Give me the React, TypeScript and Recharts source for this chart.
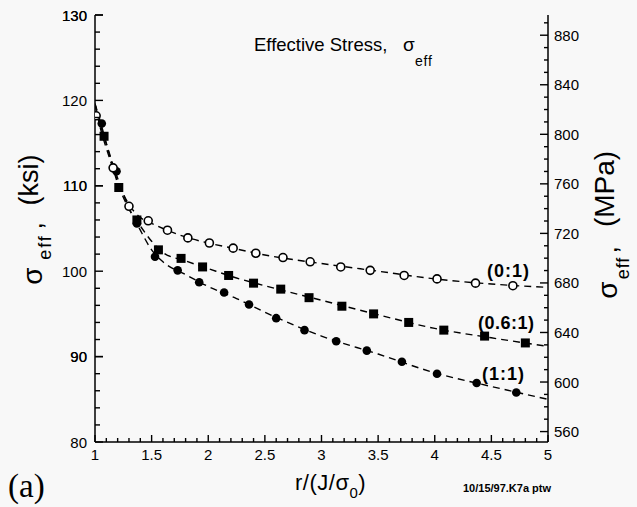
import React from "react";
import { ComposedChart, Line, Scatter, XAxis, YAxis } from "recharts";

// measured points, r/(J/sigma0) vs sigma_eff (ksi)
const openX = [1.01, 1.16, 1.3, 1.47, 1.64, 1.82, 2.01, 2.22, 2.42, 2.66, 2.9, 3.17, 3.43, 3.73, 4.02, 4.36, 4.69];
const openY = [118.2, 112.1, 107.6, 105.9, 104.8, 103.9, 103.3, 102.7, 102.1, 101.6, 101.1, 100.5, 100.1, 99.5, 99.1, 98.6, 98.3];

const squareX = [1.08, 1.21, 1.37, 1.56, 1.76, 1.95, 2.18, 2.4, 2.64, 2.89, 3.18, 3.46, 3.77, 4.08, 4.44, 4.8];
const squareY = [115.8, 109.8, 106.0, 102.5, 101.5, 100.5, 99.5, 98.6, 97.9, 96.9, 95.9, 95.0, 94.0, 93.1, 92.4, 91.6];

const dotX = [1.06, 1.19, 1.37, 1.53, 1.73, 1.92, 2.14, 2.36, 2.6, 2.85, 3.13, 3.4, 3.71, 4.02, 4.37, 4.72];
const dotY = [117.3, 111.7, 105.6, 101.7, 100.1, 98.7, 97.5, 96.1, 94.5, 93.1, 91.8, 90.7, 89.4, 88.0, 86.9, 85.8];

// fitted curves
const fitX = [1.0, 1.05, 1.1, 1.2, 1.3, 1.4, 1.5, 1.6, 1.8, 2.0, 2.25, 2.5, 3.0, 3.5, 4.0, 4.5, 5.0];
const fitOpen = [119.6, 116.6, 114.4, 110.6, 107.8, 106.3, 105.6, 105.0, 104.0, 103.3, 102.6, 101.9, 100.9, 100.0, 99.1, 98.5, 98.1];
const fitSquare = [119.6, 117.0, 114.9, 110.3, 107.3, 105.3, 103.5, 102.2, 101.2, 100.3, 99.2, 98.3, 96.6, 94.9, 93.3, 92.2, 91.2];
const fitDot = [119.6, 117.4, 115.0, 110.9, 107.4, 104.8, 102.5, 101.1, 99.6, 98.2, 96.8, 95.2, 92.4, 90.3, 88.1, 86.5, 85.0];

const xMajor = [1, 1.5, 2, 2.5, 3, 3.5, 4, 4.5, 5];
const ksiMajor = [80, 90, 100, 110, 120, 130];
const mpaMajor = [560, 600, 640, 680, 720, 760, 800, 840, 880];

const KSI_TO_MPA = 6.894757;

const range = (a: number, b: number, step: number) => {
  const out: number[] = [];
  for (let v = a; v <= b + 1e-9; v += step) out.push(Math.round(v * 100) / 100);
  return out;
};
const xTicks = range(1, 5, 0.1);
const ksiTicks = range(80, 130, 2).concat([90, 110, 130]).sort((a, b) => a - b);
const mpaTicks = range(560, 890, 10);

const zip = (xs: number[], ys: number[]) => xs.map((x, i) => ({ x, y: ys[i] }));
const isIn = (list: number[], v: number) => list.some((m) => Math.abs(m - v) < 1e-6);

const font = "'Liberation Sans', Arial, Helvetica, sans-serif";
const ink = "#000";

// inward tick marks: long on labelled values, short in between
const BottomTick = (props: any) => {
  const { x, y, payload } = props;
  const major = isIn(xMajor, payload.value);
  return (
    <g>
      <path d={`M${x},${y}V${y - (major ? 7 : 4)}`} stroke={ink} strokeWidth={1.4} fill="none" />
      {major && (
        <text x={x} y={y + 18} textAnchor="middle" fontSize={15} fontFamily={font} fill={ink}>
          {payload.value}
        </text>
      )}
    </g>
  );
};

const TopTick = (props: any) => {
  const { x, y, payload } = props;
  const major = isIn(xMajor, payload.value);
  return <path d={`M${x},${y}V${y + (major ? 8 : 4)}`} stroke={ink} strokeWidth={1.4} fill="none" />;
};

const LeftTick = (props: any) => {
  const { x, y, payload } = props;
  const major = isIn(ksiMajor, payload.value);
  return (
    <g>
      <path d={`M${x},${y}H${x + (major ? 8 : 5)}`} stroke={ink} strokeWidth={1.4} fill="none" />
      {major && (
        <text x={x - 8} y={y + 5.5} textAnchor="end" fontSize={15} fontFamily={font} fill={ink}>
          {payload.value}
        </text>
      )}
    </g>
  );
};

const RightTick = (props: any) => {
  const { x, y, payload } = props;
  const major = isIn(mpaMajor, payload.value);
  return (
    <g>
      <path d={`M${x},${y}H${x - (major ? 8 : 4)}`} stroke={ink} strokeWidth={1.4} fill="none" />
      {major && (
        <text x={x + 6} y={y + 5.5} textAnchor="start" fontSize={15} fontFamily={font} fill={ink}>
          {payload.value}
        </text>
      )}
    </g>
  );
};

const OpenCircle = (p: any) => (
  <circle cx={p.cx} cy={p.cy} r={4} fill="#fff" stroke={ink} strokeWidth={1.6} />
);
const FilledSquare = (p: any) => <rect x={p.cx - 4.5} y={p.cy - 4.5} width={9} height={9} fill={ink} />;
const FilledCircle = (p: any) => <circle cx={p.cx} cy={p.cy} r={4.3} fill={ink} />;

const axisLine = { stroke: ink, strokeWidth: 1.5 };

export default function App() {
  return (
    <div style={{ position: "fixed", left: 0, top: 0, width: 637, height: 507, background: "#f8f8f8" }}>
      <ComposedChart width={637} height={507} margin={{ top: 15, right: 0, bottom: 0, left: 0 }}>
        <XAxis
          dataKey="x"
          type="number"
          domain={[1, 5]}
          ticks={xTicks}
          interval={0}
          height={65}
          tickSize={0}
          tickMargin={0}
          axisLine={axisLine}
          tickLine={false}
          tick={BottomTick}
          allowDataOverflow
        />
        <XAxis
          xAxisId="top"
          orientation="top"
          type="number"
          domain={[1, 5]}
          ticks={xTicks}
          interval={0}
          height={0}
          tickSize={0}
          tickMargin={0}
          axisLine={axisLine}
          tickLine={false}
          tick={TopTick}
          allowDataOverflow
        />
        <YAxis
          dataKey="y"
          type="number"
          domain={[80, 130]}
          ticks={ksiTicks}
          interval={0}
          width={95}
          tickSize={0}
          tickMargin={0}
          axisLine={axisLine}
          tickLine={false}
          tick={LeftTick}
          allowDataOverflow
        />
        <YAxis
          yAxisId="mpa"
          orientation="right"
          type="number"
          domain={[80 * KSI_TO_MPA, 130 * KSI_TO_MPA]}
          ticks={mpaTicks}
          interval={0}
          width={89}
          tickSize={0}
          tickMargin={0}
          axisLine={axisLine}
          tickLine={false}
          tick={RightTick}
          allowDataOverflow
        />
        <Line data={zip(fitX, fitOpen)} dataKey="y" type="monotone" stroke={ink} strokeWidth={1.4} strokeDasharray="7 5" dot={false} isAnimationActive={false} />
        <Line data={zip(fitX, fitSquare)} dataKey="y" type="monotone" stroke={ink} strokeWidth={1.4} strokeDasharray="7 5" dot={false} isAnimationActive={false} />
        <Line data={zip(fitX, fitDot)} dataKey="y" type="monotone" stroke={ink} strokeWidth={1.4} strokeDasharray="7 5" dot={false} isAnimationActive={false} />
        <Scatter data={zip(squareX, squareY)} dataKey="y" shape={FilledSquare} isAnimationActive={false} />
        <Scatter data={zip(dotX, dotY)} dataKey="y" shape={FilledCircle} isAnimationActive={false} />
        <Scatter data={zip(openX, openY)} dataKey="y" shape={OpenCircle} isAnimationActive={false} />
      </ComposedChart>

      <svg width={637} height={507} style={{ position: "absolute", left: 0, top: 0, pointerEvents: "none" }} fontFamily={font} fill={ink}>
        <text x={254} y={51} fontSize={18.5}>Effective Stress,</text>
        <text x={403} y={51} fontSize={19}>σ</text>
        <text x={415} y={66} fontSize={14} letterSpacing={0.8}>eff</text>

        <g transform="translate(42,276) rotate(-90)">
          <text textAnchor="middle" fontSize={28}>σ</text>
        </g>
        <g transform="translate(51,247) rotate(-90)">
          <text textAnchor="middle" fontSize={18} letterSpacing={2}>eff</text>
        </g>
        <g transform="translate(42,226) rotate(-90)">
          <text textAnchor="middle" fontSize={26}>,</text>
        </g>
        <g transform="translate(38,180) rotate(-90)">
          <text textAnchor="middle" fontSize={27}>(ksi)</text>
        </g>

        <g transform="translate(617,290) rotate(-90)">
          <text textAnchor="middle" fontSize={28}>σ</text>
        </g>
        <g transform="translate(629,268) rotate(-90)">
          <text textAnchor="middle" fontSize={18} letterSpacing={1}>eff</text>
        </g>
        <g transform="translate(617,250) rotate(-90)">
          <text textAnchor="middle" fontSize={26}>,</text>
        </g>
        <g transform="translate(614,189) rotate(-90)">
          <text textAnchor="middle" fontSize={28}>(MPa)</text>
        </g>

        <text x={295} y={490} fontSize={22} letterSpacing={0.5}>
          r/(J/σ<tspan dy={8} fontSize={15}>0</tspan>
          <tspan dy={-8}>)</tspan>
        </text>

        <text x={487} y={277} fontSize={18} fontWeight={700} letterSpacing={1}>(0:1)</text>
        <text x={478} y={329} fontSize={18} fontWeight={700} letterSpacing={0.5}>(0.6:1)</text>
        <text x={482} y={380} fontSize={18} fontWeight={700} letterSpacing={1}>(1:1)</text>

        <text x={8} y={497} fontSize={33} fontFamily="'Liberation Serif', 'Times New Roman', serif">(a)</text>
        <text x={463} y={492} fontSize={11} fontWeight={700}>10/15/97.K7a ptw</text>
      </svg>
    </div>
  );
}
